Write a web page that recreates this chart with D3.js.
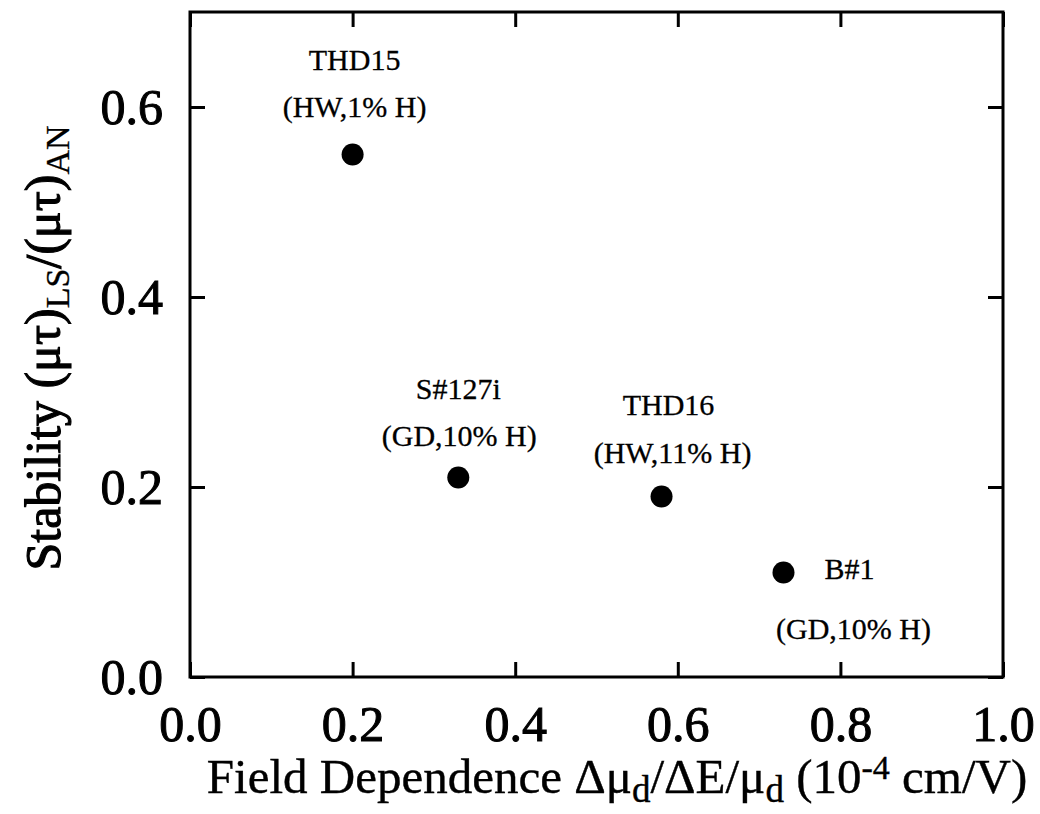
<!DOCTYPE html>
<html><head><meta charset="utf-8">
<script src="https://cdn.jsdelivr.net/npm/d3@7"></script>
<style>
body{margin:0;background:#fff;}
text{font-family:"Liberation Serif","Times New Roman",serif;fill:#000;}
</style></head>
<body><svg id="chart" width="1040" height="814"></svg>
<script>
const samples = ["THD15","S#127i","THD16","B#1"];
const descriptions = ["(HW,1% H)","(GD,10% H)","(HW,11% H)","(GD,10% H)"];
const fieldDependence = [0.20, 0.33, 0.58, 0.73];
const stability = [0.55, 0.21, 0.19, 0.11];
const xTicks = [0.0, 0.2, 0.4, 0.6, 0.8, 1.0];
const yTicks = [0.0, 0.2, 0.4, 0.6];

const svg = d3.select("#chart");
const L = 190, R = 1003, T = 12, B = 677;
const x = d3.scaleLinear().domain([0, 1]).range([L, R]);
const y = d3.scaleLinear().domain([0, 0.7]).range([B, T]);
const fmt = d3.format(".1f");

function styleAxis(g){
  g.select(".domain").remove();
  g.selectAll(".tick line").attr("stroke","#000").attr("stroke-width",3);
}
function styleLabels(sel){
  sel.attr("font-size",50).attr("font-family","Liberation Serif")
    .attr("stroke","#000").attr("stroke-width",1.0);
}
svg.append("g").attr("transform",`translate(0,${B})`)
  .call(d3.axisBottom(x).tickValues(xTicks).tickFormat(fmt).tickSizeInner(-15).tickSizeOuter(0).tickPadding(28))
  .call(styleAxis)
  .selectAll("text").call(styleLabels);
svg.append("g").attr("transform",`translate(0,${T})`)
  .call(d3.axisTop(x).tickValues(xTicks).tickFormat("").tickSizeInner(-15).tickSizeOuter(0))
  .call(styleAxis);
svg.append("g").attr("transform",`translate(${L},0)`)
  .call(d3.axisLeft(y).tickValues(yTicks).tickFormat(fmt).tickSizeInner(-15).tickSizeOuter(0).tickPadding(27))
  .call(styleAxis)
  .selectAll("text").call(styleLabels);
svg.append("g").attr("transform",`translate(${R},0)`)
  .call(d3.axisRight(y).tickValues(yTicks).tickFormat("").tickSizeInner(-15).tickSizeOuter(0))
  .call(styleAxis);

svg.append("rect").attr("x",L).attr("y",T).attr("width",R-L).attr("height",B-T)
  .attr("fill","none").attr("stroke","#000").attr("stroke-width",3);

const data = samples.map((s,i)=>({s, d:descriptions[i], x:fieldDependence[i], y:stability[i]}));
svg.append("g").selectAll("circle").data(data).join("circle")
  .attr("cx",d=>x(d.x)).attr("cy",d=>y(d.y)).attr("r",11).attr("fill","#000");

// label offsets relative to the point (name line, description line)
const labelPos = [
  {nx:2, ny:-85, dx:2, dy:-38, anchor:"middle"},
  {nx:0, ny:-79, dx:1, dy:-32, anchor:"middle"},
  {nx:7, ny:-82, dx:11, dy:-34, anchor:"middle"},
  {nx:41, ny:6, dx:70, dy:66, anchor:"start"}
];
const lab = svg.append("g").attr("font-size",30).attr("stroke","#000").attr("stroke-width",0.3);
data.forEach((d,i)=>{
  const p = labelPos[i];
  lab.append("text").attr("x",x(d.x)+p.nx).attr("y",y(d.y)+p.ny)
    .attr("text-anchor",p.anchor).text(d.s);
  lab.append("text").attr("x",x(d.x)+p.dx).attr("y",y(d.y)+p.dy)
    .attr("text-anchor","middle").text(d.d);
});

// axis titles
const xt = svg.append("text").attr("x",617).attr("y",793).attr("text-anchor","middle")
  .attr("font-size",49).attr("stroke","#000").attr("stroke-width",0.4);
xt.append("tspan").text("Field Dependence Δμ");
xt.append("tspan").attr("baseline-shift","-25%").attr("font-size",37).text("d");
xt.append("tspan").text("/ΔE/μ");
xt.append("tspan").attr("baseline-shift","-25%").attr("font-size",37).text("d");
xt.append("tspan").text(" (10");
xt.append("tspan").attr("baseline-shift","40%").attr("font-size",34).text("-4");
xt.append("tspan").text(" cm/V)");

const yt = svg.append("text").attr("transform","translate(60,348) rotate(-90)")
  .attr("text-anchor","middle").attr("font-size",50).attr("stroke","#000").attr("stroke-width",1.1);
yt.append("tspan").text("Stability (μτ)");
yt.append("tspan").attr("baseline-shift","-25%").attr("font-size",34).attr("stroke-width",0.3).text("LS");
yt.append("tspan").text("/(μτ)");
yt.append("tspan").attr("baseline-shift","-25%").attr("font-size",34).attr("stroke-width",0.3).text("AN");
</script></body></html>
